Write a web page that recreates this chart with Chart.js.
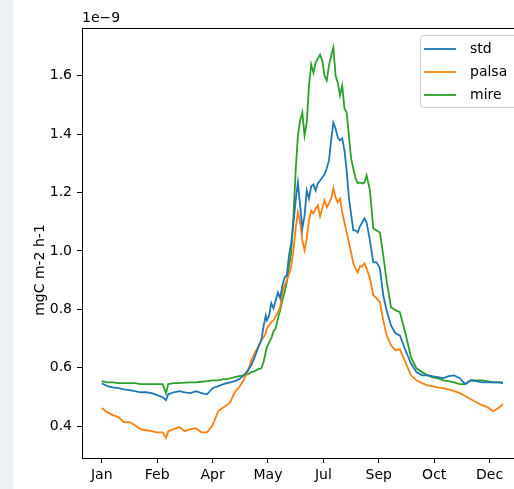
<!DOCTYPE html>
<html><head><meta charset="utf-8">
<script src="https://cdn.jsdelivr.net/npm/chart.js@4"></script>
<style>
html,body{margin:0;padding:0;overflow:hidden;width:514px;height:489px;background:linear-gradient(to right,#edf1f6 0,#edf1f6 13px,#ffffff 13px);}
#wrap{position:absolute;left:0;top:0;width:536px;height:489px;}
</style></head><body>
<div id="wrap"><canvas id="c" width="536" height="489"></canvas></div>
<script>
const days = [0,5,10,15,20,25,30,35,40,45,50,55,58,60,65,70,75,80,85,90,95,100,105,110,113,116,120,124,128,132,135,138,141,144,146,148,149,151,153,155,157,159,161,163,165,167,169,171,173,175,177,179,181,183,185,187,189,191,193,195,197,199,201,203,205,207,209,211,213,215,217,219,221,223,225,227,229,231,233,235,237,239,242,245,248,251,254,257,261,265,269,274,279,284,289,294,298,303,308,313,318,323,328,333,338,343,348,353,358,362];

const mire = [0.554,0.550,0.550,0.547,0.547,0.547,0.547,0.544,0.544,0.544,0.544,0.544,0.513,0.544,0.547,0.547,0.549,0.550,0.550,0.552,0.554,0.557,0.557,0.561,0.561,0.564,0.568,0.571,0.574,0.578,0.585,0.588,0.595,0.598,0.619,0.653,0.670,0.687,0.701,0.725,0.735,0.769,0.797,0.831,0.858,0.892,0.950,0.995,1.120,1.275,1.395,1.446,1.474,1.395,1.439,1.566,1.638,1.610,1.644,1.658,1.672,1.651,1.600,1.583,1.634,1.668,1.696,1.600,1.576,1.532,1.566,1.487,1.474,1.395,1.316,1.282,1.248,1.231,1.234,1.231,1.234,1.258,1.207,1.077,1.070,1.063,0.985,0.899,0.807,0.797,0.790,0.718,0.636,0.598,0.585,0.574,0.568,0.564,0.557,0.554,0.550,0.544,0.544,0.557,0.557,0.557,0.554,0.550,0.550,0.550];

const std = [0.547,0.537,0.533,0.530,0.526,0.523,0.520,0.516,0.516,0.513,0.506,0.499,0.489,0.509,0.516,0.520,0.516,0.513,0.520,0.513,0.509,0.530,0.537,0.544,0.547,0.550,0.554,0.561,0.574,0.591,0.609,0.636,0.667,0.694,0.742,0.779,0.762,0.779,0.821,0.803,0.831,0.858,0.838,0.882,0.909,0.916,0.985,1.029,1.097,1.173,1.234,1.156,1.077,1.121,1.207,1.179,1.221,1.227,1.207,1.231,1.241,1.251,1.262,1.282,1.309,1.378,1.439,1.419,1.388,1.378,1.385,1.344,1.275,1.183,1.125,1.070,1.070,1.063,1.084,1.097,1.111,1.097,1.036,0.961,0.961,0.940,0.848,0.797,0.745,0.718,0.711,0.660,0.615,0.585,0.574,0.574,0.571,0.568,0.564,0.571,0.574,0.564,0.544,0.557,0.554,0.550,0.550,0.550,0.550,0.547];

const palsa = [0.462,0.448,0.438,0.431,0.414,0.414,0.403,0.390,0.386,0.383,0.379,0.379,0.359,0.383,0.390,0.397,0.383,0.390,0.393,0.379,0.379,0.403,0.451,0.465,0.472,0.482,0.516,0.533,0.557,0.591,0.626,0.650,0.670,0.694,0.704,0.718,0.735,0.745,0.756,0.762,0.776,0.790,0.807,0.858,0.882,0.899,0.920,0.950,1.002,1.077,1.132,1.098,1.036,1.002,1.043,1.104,1.138,1.128,1.145,1.156,1.118,1.145,1.173,1.149,1.162,1.179,1.214,1.183,1.166,1.179,1.132,1.097,1.063,1.029,0.995,0.957,0.940,0.926,0.947,0.947,0.957,0.940,0.906,0.848,0.838,0.824,0.762,0.711,0.677,0.660,0.663,0.619,0.574,0.557,0.547,0.540,0.537,0.533,0.530,0.526,0.520,0.513,0.503,0.492,0.482,0.472,0.465,0.451,0.462,0.475];

const tickDays = [0,50,100,150,200,250,300,350];
const tickLabels = ['Jan','Feb','Apr','May','Jul','Sep','Oct','Dec'];
const yTicks = [0.4,0.6,0.8,1.0,1.2,1.4,1.6];
const seriesNames = ['std','palsa','mire'];
const seriesColors = ['#1f77b4','#ff7f0e','#2ca02c'];
const offsetText = '1e\u22129';
const yLabel = 'mgC m-2 h-1';

Chart.defaults.font.family = "'DejaVu Sans', sans-serif";
Chart.defaults.font.size = 14;
Chart.defaults.color = '#000';

const seriesValues = [std, palsa, mire];
const datasets = seriesNames.map((n,i)=>({
  label:n,
  data: days.map((d,j)=>({x:d,y:seriesValues[i][j]})),
  borderColor: seriesColors[i],
  backgroundColor: seriesColors[i],
  borderWidth: 1.8,
  pointRadius: 0,
  tension: 0,
  fill: false
}));

const overlay = {
  id:'overlay',
  afterDraw(chart){
    const {ctx, chartArea:a} = chart;
    ctx.save();
    ctx.strokeStyle = '#000';
    ctx.lineWidth = 1;
    ctx.strokeRect(Math.round(a.left)+0.5, Math.round(a.top)+0.5, Math.round(a.right-a.left), Math.round(a.bottom-a.top));
    ctx.fillStyle = '#000';
    ctx.font = "14px 'DejaVu Sans'";
    ctx.textAlign = 'left';
    ctx.textBaseline = 'alphabetic';
    ctx.fillText(offsetText, a.left, a.top - 6);
    // y axis label
    ctx.save();
    ctx.translate(40, 270);
    ctx.rotate(-Math.PI/2);
    ctx.textAlign = 'center';
    ctx.textBaseline = 'middle';
    ctx.fillText(yLabel, 0, 0);
    ctx.restore();
    // legend
    const bx = 420.5, by = 35.5, bw = a.right - 5 - 420, bh = 72;
    ctx.beginPath();
    ctx.roundRect(bx, by, bw, bh, 3);
    ctx.fillStyle = 'rgba(255,255,255,0.8)';
    ctx.fill();
    ctx.strokeStyle = '#cccccc';
    ctx.stroke();
    const rows = [49, 72, 95];
    seriesNames.forEach((n,i)=>{
      ctx.strokeStyle = seriesColors[i];
      ctx.lineWidth = 1.8;
      ctx.beginPath();
      ctx.moveTo(424, rows[i]);
      ctx.lineTo(456, rows[i]);
      ctx.stroke();
      ctx.fillStyle = '#000';
      ctx.textAlign = 'left';
      ctx.textBaseline = 'middle';
      ctx.fillText(n, 470, rows[i]);
    });
    ctx.restore();
  }
};

new Chart(document.getElementById('c'), {
  type:'line',
  data:{datasets},
  options:{
    responsive:false,
    animation:false,
    layout:{padding:{left:0, top:28, right:13, bottom:0}},
    plugins:{legend:{display:false}, tooltip:{enabled:false}},
    scales:{
      x:{
        type:'linear', min:-17.8, max:380.1,
        afterBuildTicks(s){ s.ticks = tickDays.map(v=>({value:v})); },
        afterFit(s){ s.height = 31; },
        ticks:{ padding:4, maxRotation:0, autoSkip:false,
          callback:(v)=>{ const k = tickDays.indexOf(v); return k>=0 ? tickLabels[k] : ''; } },
        grid:{display:true, drawOnChartArea:false, drawTicks:true, tickLength:5, tickColor:'#000', tickWidth:1},
        border:{display:false}
      },
      y:{
        type:'linear', min:0.291, max:1.763,
        afterBuildTicks(s){ s.ticks = yTicks.map(v=>({value:v})); },
        afterFit(s){ s.width = 82; },
        ticks:{ padding:5, autoSkip:false, callback:(v)=>Number(v).toFixed(1) },
        grid:{display:true, drawOnChartArea:false, drawTicks:true, tickLength:5, tickColor:'#000', tickWidth:1},
        border:{display:false}
      }
    }
  },
  plugins:[overlay]
});
</script>
</body></html>
